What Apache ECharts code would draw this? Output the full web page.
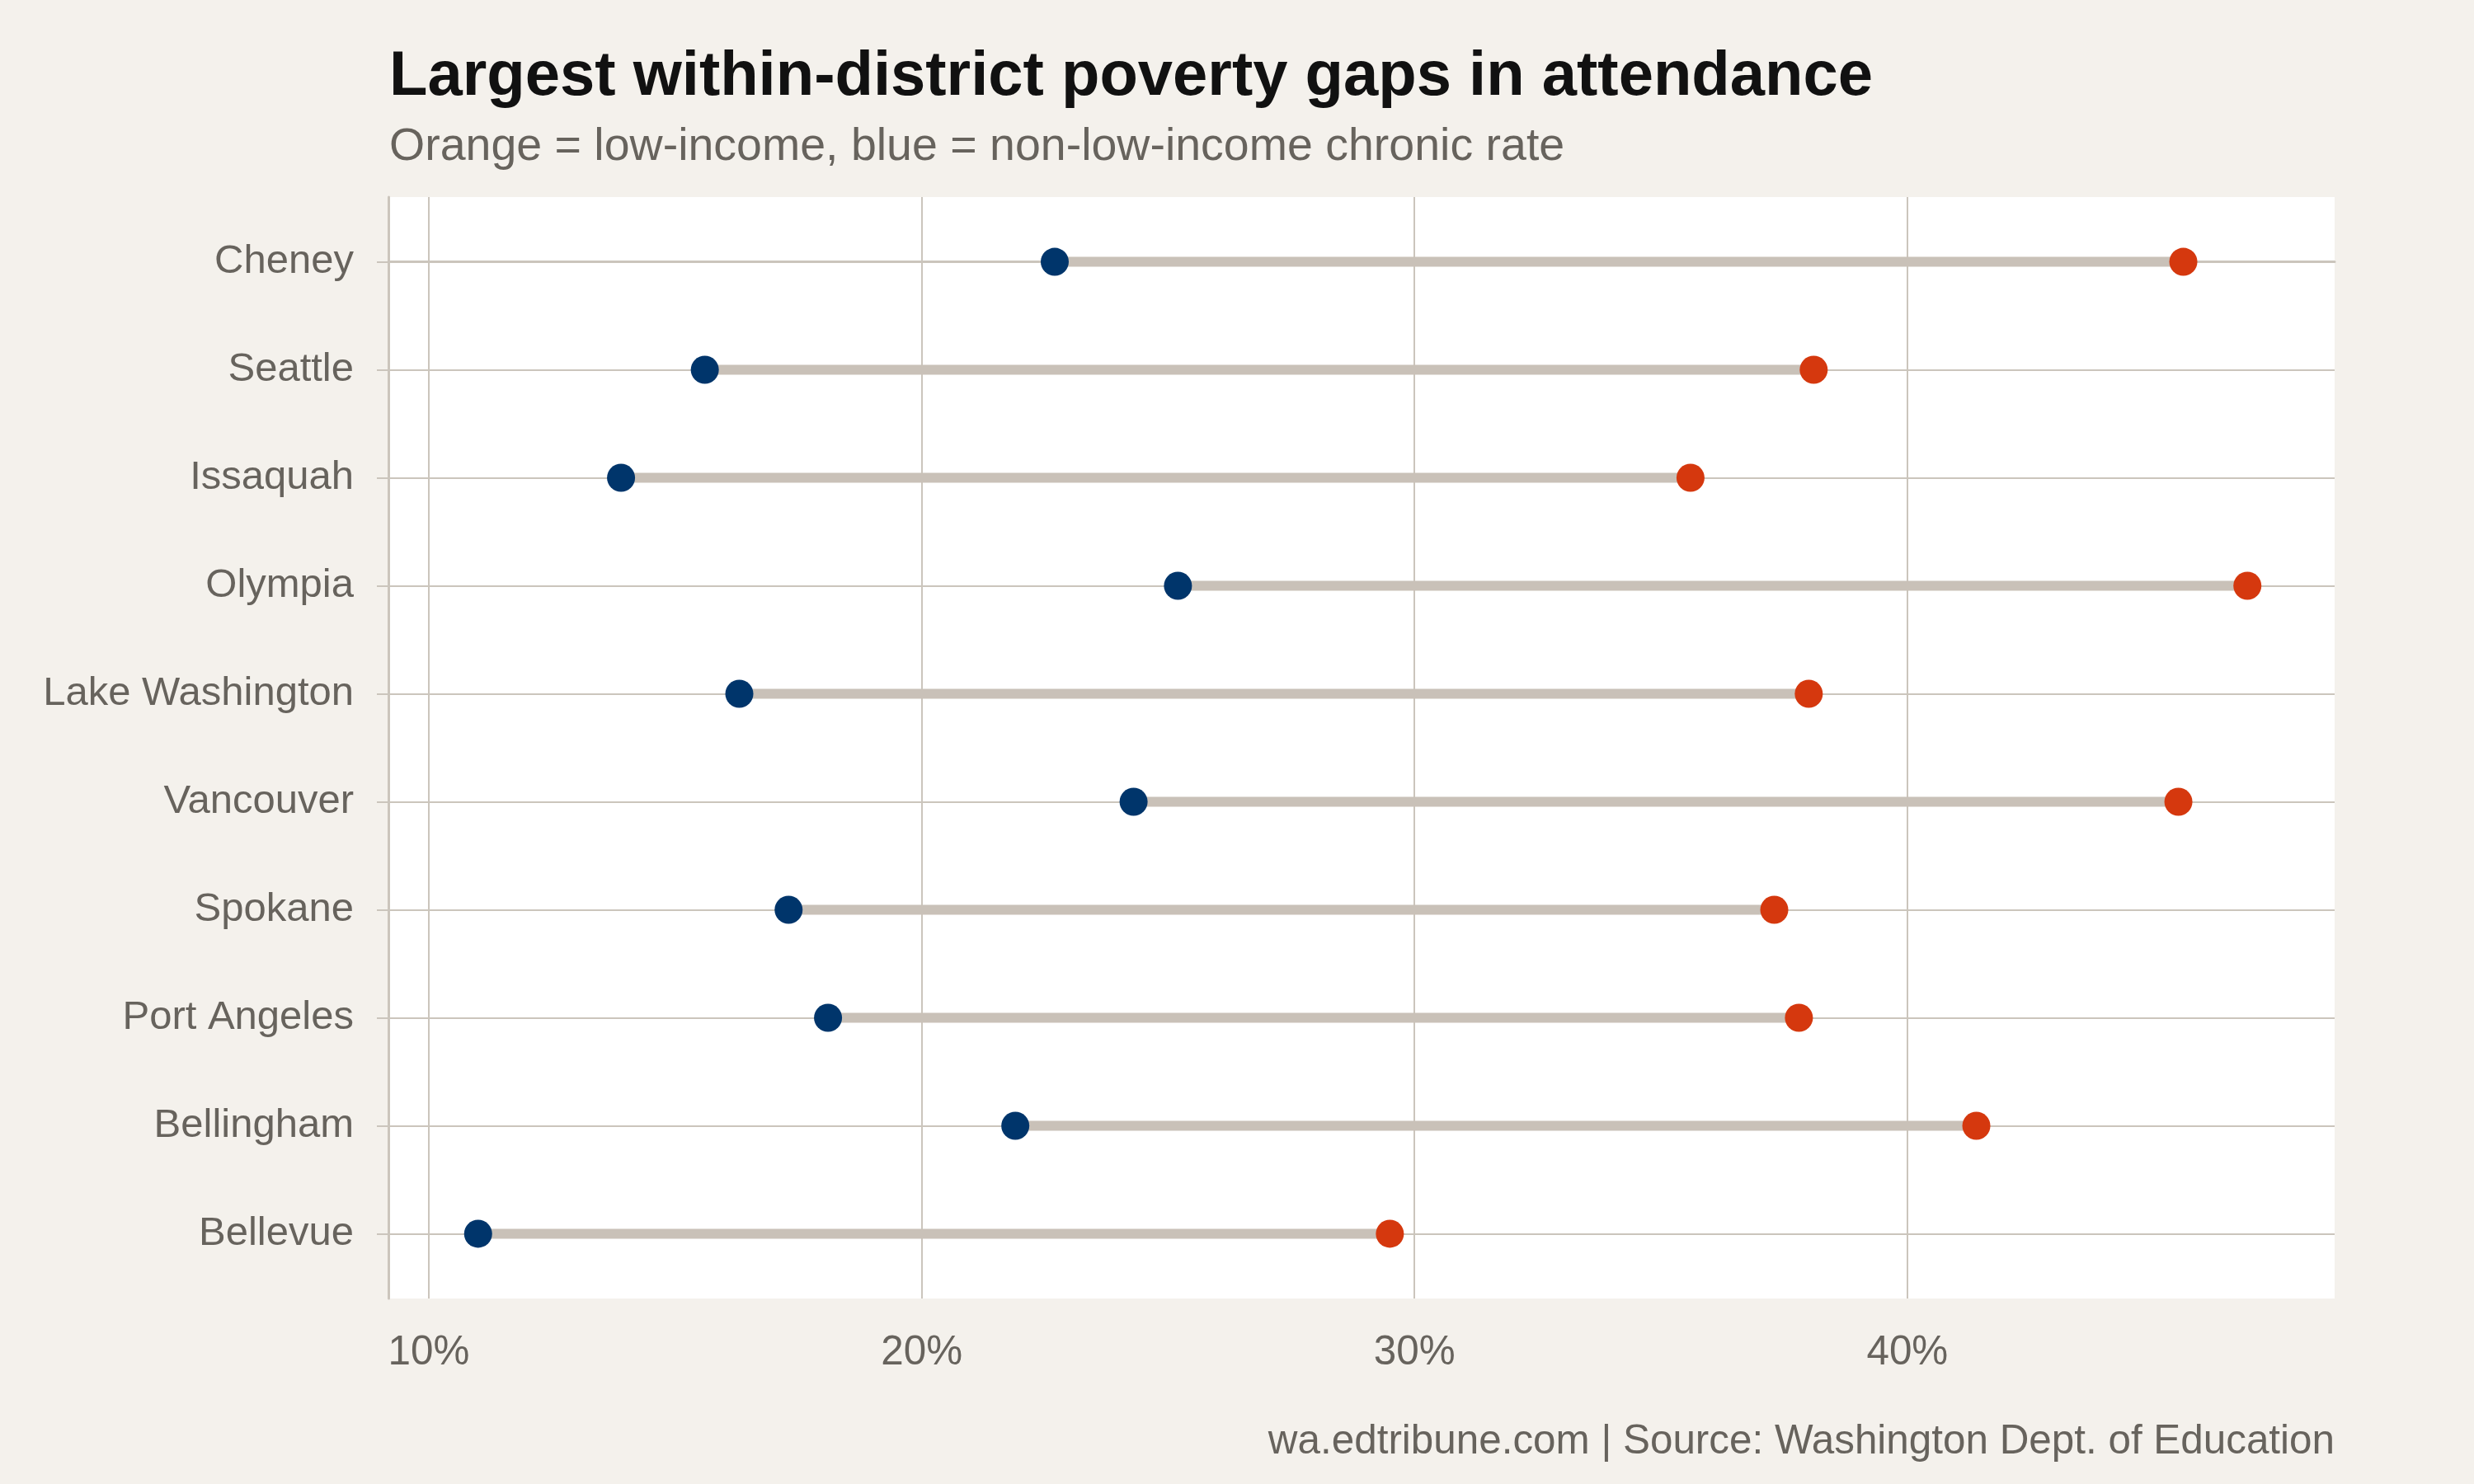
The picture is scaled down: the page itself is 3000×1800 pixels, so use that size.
<!DOCTYPE html>
<html>
<head>
<meta charset="utf-8">
<script src="https://cdn.jsdelivr.net/npm/echarts@6/dist/echarts.min.js"></script>
<style>
  html, body { margin: 0; padding: 0; background: #f4f1ec; }
  #chart { width: 3000px; height: 1800px; }
</style>
</head>
<body>
<div id="chart"></div>
<script>
// districts, top to bottom
var districts = ["Cheney", "Seattle", "Issaquah", "Olympia", "Lake Washington",
  "Vancouver", "Spokane", "Port Angeles", "Bellingham", "Bellevue"];
// chronic absence rate, non-low-income students (blue)
var nonLowIncome = [22.7, 15.6, 13.9, 25.2, 16.3, 24.3, 17.3, 18.1, 21.9, 11.0];
// chronic absence rate, low-income students (orange)
var lowIncome = [45.6, 38.1, 35.6, 46.9, 38.0, 45.5, 37.3, 37.8, 41.4, 29.5];
var xTicks = [10, 20, 30, 40];

var font = "Liberation Sans";
var gridColor = "#cbc5bc";
var textGray = "#67635d";

var myChart = echarts.init(document.getElementById("chart"));

var blueData = [];
var orangeData = [];
var gapData = [];
for (var i = 0; i < districts.length; i++) {
  blueData.push([nonLowIncome[i], i]);
  orangeData.push([lowIncome[i], i]);
  gapData.push([nonLowIncome[i], lowIncome[i], i]);
}
var rowIdx = districts.map(function (d, i) { return i; });

myChart.setOption({
  backgroundColor: "#f4f1ec",
  animation: false,
  title: [
    {
      text: "Largest within-district poverty gaps in attendance",
      left: 472, top: 56, padding: 0,
      textStyle: { fontFamily: font, fontSize: 76, fontWeight: "bold", color: "#111111", lineHeight: 76 }
    },
    {
      text: "Orange = low-income, blue = non-low-income chronic rate",
      left: 472, top: 151, padding: 0,
      textStyle: { fontFamily: font, fontSize: 55.5, fontWeight: "normal", color: textGray, lineHeight: 56 }
    },
    {
      text: "wa.edtribune.com | Source: Washington Dept. of Education",
      right: 169, top: 1724, padding: 0,
      textStyle: { fontFamily: font, fontSize: 49.4, fontWeight: "normal", color: textGray, lineHeight: 50 }
    }
  ],
  grid: {
    left: 471, right: 169, top: 239, bottom: 225,
    show: true, backgroundColor: "#ffffff", borderWidth: 0
  },
  xAxis: {
    type: "value",
    min: 9.18,
    max: 48.67,
    axisLine: { show: true, lineStyle: { color: gridColor, width: 3 } },
    axisTick: { show: true, customValues: xTicks, length: 14, lineStyle: { color: gridColor, width: 2 } },
    axisLabel: {
      customValues: xTicks, margin: 42,
      fontFamily: font, fontSize: 49.4, color: textGray,
      formatter: function (v) { return v + "%"; }
    },
    splitLine: { show: true, lineStyle: { color: gridColor, width: 2 } }
  },
  yAxis: {
    type: "value",
    inverse: true,
    min: -0.6,
    max: 9.6,
    axisLine: { show: true, lineStyle: { color: gridColor, width: 3 } },
    axisTick: { show: true, customValues: rowIdx, length: 14, lineStyle: { color: gridColor, width: 2 } },
    axisLabel: {
      customValues: rowIdx, margin: 42, padding: [10, 0, 0, 0],
      fontFamily: font, fontSize: 49, color: textGray,
      formatter: function (v) { return districts[Math.round(v)]; }
    },
    splitLine: { show: true, lineStyle: { color: gridColor, width: 2 } }
  },
  series: [
    {
      // gap bar between the two rates
      type: "custom",
      z: 2,
      data: gapData,
      encode: { x: [0, 1], y: 2 },
      renderItem: function (params, api) {
        var a = api.coord([api.value(0), api.value(2)]);
        var b = api.coord([api.value(1), api.value(2)]);
        return {
          type: "line",
          shape: { x1: a[0], y1: a[1], x2: b[0], y2: b[1] },
          style: { stroke: "#c9c1b8", lineWidth: 12 }
        };
      }
    },
    {
      name: "non-low-income",
      type: "scatter",
      z: 3,
      symbolSize: 34,
      itemStyle: { color: "#00356b", opacity: 1 },
      data: blueData
    },
    {
      name: "low-income",
      type: "scatter",
      z: 3,
      symbolSize: 34,
      itemStyle: { color: "#d5380e", opacity: 1 },
      data: orangeData
    }
  ]
});
</script>
</body>
</html>
